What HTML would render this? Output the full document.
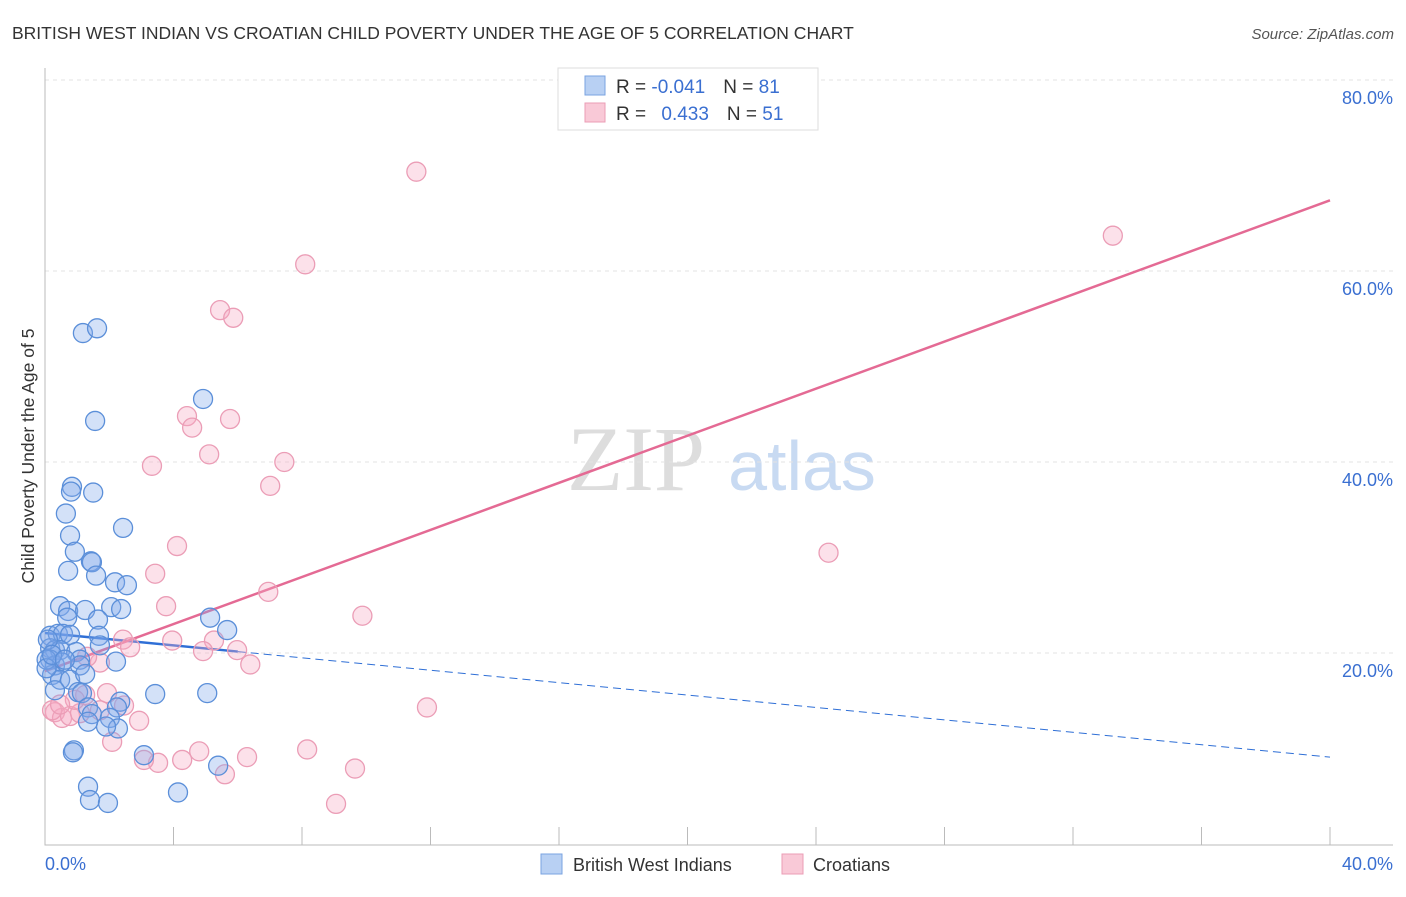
<!DOCTYPE html>
<html><head><meta charset="utf-8"><style>
body{margin:0;background:#fff;font-family:"Liberation Sans",sans-serif;}
</style></head><body>
<svg id="chart" width="1406" height="892" xmlns="http://www.w3.org/2000/svg" style="font-family:'Liberation Sans',sans-serif">
<text x="12" y="39" font-size="17.5" fill="#333">BRITISH WEST INDIAN VS CROATIAN CHILD POVERTY UNDER THE AGE OF 5 CORRELATION CHART</text>
<text x="1394" y="39" font-size="15" fill="#555" text-anchor="end" font-style="italic">Source: ZipAtlas.com</text>
<g>
<text x="636" y="490" font-size="92" fill="#ddd" font-family="Liberation Serif" text-anchor="middle">ZIP</text>
<text x="802" y="490" font-size="70" fill="#c8daf2" text-anchor="middle">atlas</text>
</g>
<g id="grid"></g>
<g id="axes"></g>
<g id="trend"></g>
<g id="pts"></g>
<text transform="translate(34,456) rotate(-90)" font-size="17.5" fill="#333" text-anchor="middle">Child Poverty Under the Age of 5</text>
<g>
<rect x="558" y="68" width="260" height="62" fill="#fff" stroke="#ddd"/>
<rect x="585" y="76" width="20" height="19" fill="#b8d0f3" stroke="#7aa3e0"/>
<rect x="585" y="103" width="20" height="19" fill="#f9c9d7" stroke="#eb9db6"/>
<text x="616" y="93" font-size="19" fill="#333">R = <tspan fill="#3a6fd1">-0.041</tspan><tspan dx="18">N = </tspan><tspan fill="#3a6fd1">81</tspan></text>
<text x="616" y="120" font-size="19" fill="#333">R = <tspan fill="#3a6fd1" dx="10">0.433</tspan><tspan dx="18">N = </tspan><tspan fill="#3a6fd1">51</tspan></text>
</g>
<g>
<rect x="541" y="854" width="21" height="20" fill="#b8d0f3" stroke="#7aa3e0"/>
<text x="573" y="871" font-size="18" fill="#333">British West Indians</text>
<rect x="782" y="854" width="21" height="20" fill="#f9c9d7" stroke="#eb9db6"/>
<text x="813" y="871" font-size="18" fill="#333">Croatians</text>
</g>
</svg>
<script>
const blueX=[1.18,1.62,1.56,4.92,0.84,0.81,1.50,0.65,0.78,2.43,0.93,1.43,1.46,0.72,1.59,2.18,2.55,0.47,0.72,1.25,2.06,2.37,0.69,1.65,5.14,5.67,0.16,0.40,0.56,0.78,1.68,0.16,0.31,0.47,0.97,1.09,0.16,0.31,0.53,1.09,2.21,1.71,0.22,0.47,0.78,1.25,0.31,1.03,1.15,3.43,5.05,2.34,1.34,2.24,1.46,2.02,2.27,1.90,1.34,0.90,0.87,3.08,5.39,1.34,1.40,1.96,4.14,0.05,0.05,0.09,0.22,0.62];
const blueY=[53.5,54.0,44.3,46.6,37.4,36.9,36.8,34.6,32.3,33.1,30.6,29.6,29.5,28.6,28.1,27.4,27.1,24.9,24.4,24.5,24.8,24.6,23.7,23.5,23.7,22.4,21.8,22.0,22.0,21.9,21.8,20.5,20.3,20.3,20.1,19.3,19.3,18.7,19.0,18.7,19.1,20.8,17.7,17.2,17.2,17.8,16.1,15.9,15.8,15.7,15.8,14.9,14.3,14.3,13.6,13.2,12.1,12.3,12.8,9.8,9.6,9.3,8.2,6.0,4.6,4.3,5.4,19.3,18.4,21.4,19.8,19.3];
const pinkX=[11.56,33.24,8.10,5.45,5.86,4.42,4.58,5.76,5.11,3.33,7.45,7.01,4.11,24.39,3.43,6.95,3.77,9.88,2.43,3.96,2.65,5.26,5.98,4.92,6.39,1.71,1.31,0.31,0.53,0.78,1.09,1.25,0.93,1.93,1.71,2.46,2.93,2.09,11.89,4.80,4.27,3.52,3.08,6.29,8.16,9.65,5.60,9.06,0.22,0.47];
const pinkY=[70.4,63.7,60.7,55.9,55.1,44.8,43.6,44.5,40.8,39.6,40.0,37.5,31.2,30.5,28.3,26.4,24.9,23.9,21.4,21.3,20.6,21.3,20.3,20.2,18.8,19.0,19.6,13.8,13.2,13.4,13.7,15.6,15.1,15.8,14.0,14.5,12.9,10.7,14.3,9.7,8.8,8.5,8.8,9.1,9.9,7.9,7.3,4.2,14.0,14.6];
const blueTrend=[22.1,9.1]; const blueSolidEnd=6.0;
const pinkTrend=[18.1,67.4];
const yTicks=[20,40,60,80];
const yTickLabels=["20.0%","40.0%","60.0%","80.0%"];
const xTicks=[0,4,8,12,16,20,24,28,32,36,40];

const NS="http://www.w3.org/2000/svg";
const sx=v=>45+v*32.125, sy=v=>844-v*9.55;
function mk(t,a,p){const e=document.createElementNS(NS,t);for(const k in a)e.setAttribute(k,a[k]);p.appendChild(e);return e;}
const grid=document.getElementById('grid'),axes=document.getElementById('axes'),trend=document.getElementById('trend'),pts=document.getElementById('pts');
yTicks.forEach((v,i)=>{
 const l=mk('line',{x1:45,x2:1393,y1:sy(v),y2:sy(v),stroke:'#e3e3e3','stroke-dasharray':'4,4'},grid);
 
 
 const t=mk('text',{x:1393,y:sy(v)+24,'font-size':18,fill:'#3a6fd1','text-anchor':'end'},grid);
 t.textContent=yTickLabels[i];
 
 
});
const ax=mk('path',{d:'M45 68V845H1393',fill:'none',stroke:'#bbb'},axes);


xTicks.forEach(v=>{const l=mk('line',{x1:sx(v),x2:sx(v),y1:827,y2:845,stroke:'#bbb'},axes);
 
 });
const x0=mk('text',{x:45,y:870,'font-size':18,fill:'#3a6fd1'},axes);x0.textContent='0.0%';


const x1=mk('text',{x:1393,y:870,'font-size':18,fill:'#3a6fd1','text-anchor':'end'},axes);x1.textContent='40.0%';


function draw(X,Y,fill,stroke,name){X.forEach((x,i)=>{const c=mk('circle',{cx:sx(x),cy:sy(Y[i]),r:9.5,fill:fill,stroke:stroke,'stroke-width':1.3},pts);
 
 });}
draw(pinkX,pinkY,'rgba(245,170,195,0.35)','#eb9db6','croatian-point');
draw(blueX,blueY,'rgba(130,170,235,0.35)','#5b8fd9','bwi-point');
const bAt=x=>blueTrend[0]+(blueTrend[1]-blueTrend[0])*x/40;
const b1=mk('line',{x1:sx(0),y1:sy(blueTrend[0]),x2:sx(blueSolidEnd),y2:sy(bAt(blueSolidEnd)),stroke:'#2f6fd6','stroke-width':2.5},trend);


const b2=mk('line',{x1:sx(blueSolidEnd),y1:sy(bAt(blueSolidEnd)),x2:sx(40),y2:sy(blueTrend[1]),stroke:'#2f6fd6','stroke-width':1,'stroke-dasharray':'8,5'},trend);


const p1=mk('line',{x1:sx(0),y1:sy(pinkTrend[0]),x2:sx(40),y2:sy(pinkTrend[1]),stroke:'#e46a94','stroke-width':2.5},trend);


</script>
</body></html>
